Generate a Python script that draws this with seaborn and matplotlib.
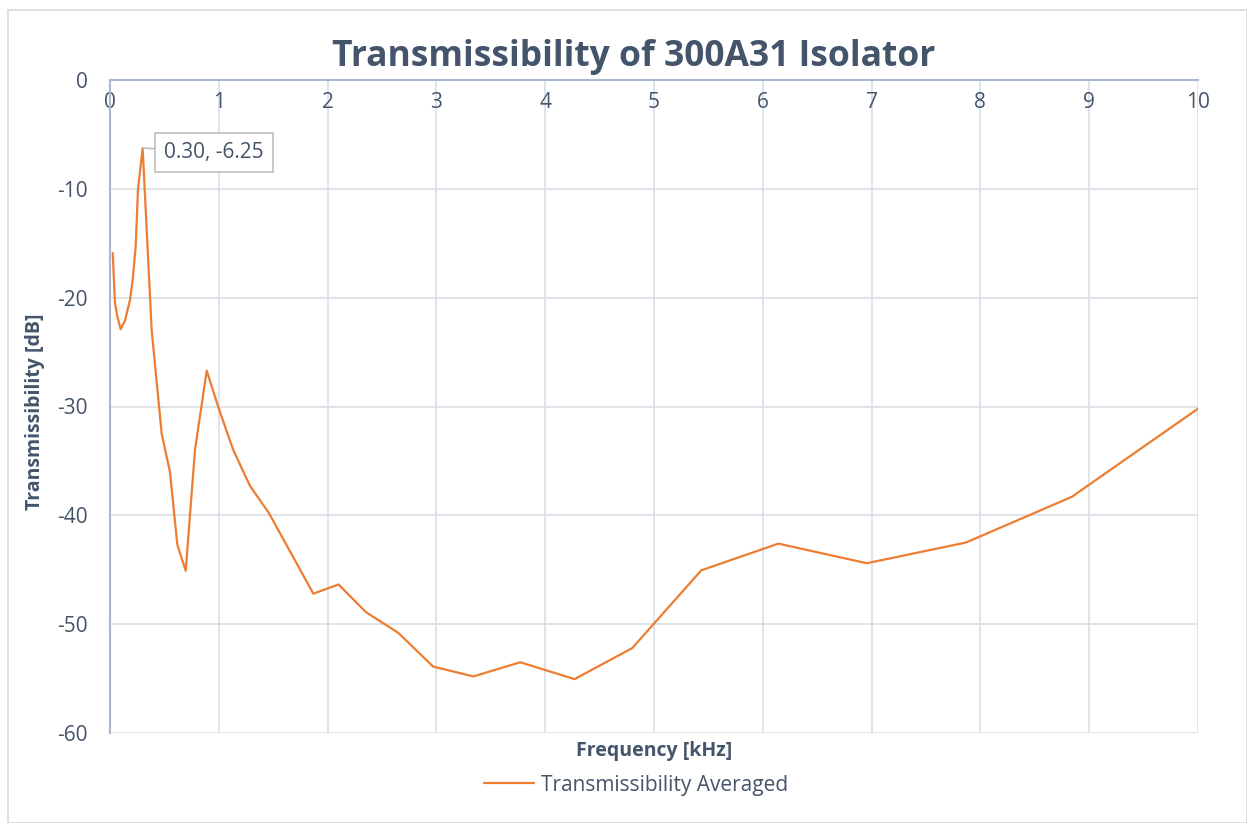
import matplotlib
matplotlib.use('Agg')
import matplotlib.pyplot as plt
import seaborn as sns
from matplotlib.patches import Rectangle

# Data
freq_khz = [0.025, 0.046, 0.067, 0.098, 0.138, 0.184, 0.208, 0.236, 0.257, 0.270,
            0.300, 0.383, 0.475, 0.551, 0.619, 0.696, 0.781, 0.889, 1.000, 1.133,
            1.287, 1.461, 1.869, 2.100, 2.353, 2.650, 2.970, 3.340, 3.770, 4.270,
            4.800, 5.435, 6.143, 6.956, 7.867, 8.840, 10.000]
trans_db = [-15.9, -20.5, -21.7, -22.9, -22.1, -20.2, -18.4, -15.3, -10.1, -8.9,
            -6.25, -23.0, -32.5, -36.0, -42.7, -45.1, -34.0, -26.7, -30.2, -34.0,
            -37.3, -39.8, -47.2, -46.35, -48.9, -50.8, -53.9, -54.8, -53.5, -55.05,
            -52.2, -45.05, -42.6, -44.4, -42.5, -38.3, -30.2]
x_ticks = list(range(0, 11))
y_ticks = [0, -10, -20, -30, -40, -50, -60]
peak_label = '0.30, -6.25'

text_col = '#44546a'
axis_col = '#abb8cc'
grid_col = '#d9dee6'
line_col = '#ed7d31'

sns.set_theme(style='white')
plt.rcParams['font.family'] = ['Open Sans', 'DejaVu Sans']
plt.rcParams['axes.unicode_minus'] = False

fig = plt.figure(figsize=(12.47, 8.23), dpi=100)
# outer chart border
fig.patches.append(Rectangle((8 / 1247, 0), 1 - 8 / 1247, 1 - 10 / 823,
                             transform=fig.transFigure, fill=False,
                             ec='#d9d9d9', lw=1.2))

ax = fig.add_axes([110 / 1247, 1 - 733 / 823, 1088 / 1247, 653 / 823])

sns.lineplot(x=freq_khz, y=trans_db, ax=ax, color=line_col, linewidth=1.6,
             label='Transmissibility Averaged', legend=False)

ax.set_xlim(0, 10)
ax.set_ylim(-60, 0)
ax.set_xticks(x_ticks)
ax.set_yticks(y_ticks)
ax.grid(True, color=grid_col, linewidth=1.2)
ax.set_axisbelow(True)

ax.spines['bottom'].set_position(('data', 0))
ax.spines['bottom'].set_color(axis_col)
ax.spines['left'].set_color(axis_col)
ax.spines['bottom'].set_linewidth(1.5)
ax.spines['left'].set_linewidth(1.5)
ax.spines['top'].set_visible(False)
ax.spines['right'].set_visible(False)
ax.tick_params(axis='x', length=0, pad=9, labelsize=15, labelcolor=text_col)
ax.tick_params(axis='y', length=0, pad=16, labelsize=15, labelcolor=text_col)
ax.set_xlabel('')
ax.set_ylabel('')

# data label callout on the peak
ax.annotate(peak_label, xy=(0.30, -6.25), xytext=(0.956, -6.66),
            ha='center', va='center', fontsize=15, color=text_col,
            bbox=dict(boxstyle='square,pad=0.45', fc='white', ec='#bfbfbf', lw=1.2),
            arrowprops=dict(arrowstyle='-', color='#bfbfbf', lw=1.2,
                            shrinkA=0, shrinkB=0))

fig.text(634 / 1247, 1 - 57 / 823, 'Transmissibility of 300A31 Isolator',
         ha='center', va='center', fontsize=25.5, fontweight='bold', color=text_col)
fig.text(654 / 1247, 1 - 751 / 823, 'Frequency [kHz]', ha='center', va='center',
         fontsize=14, fontweight='bold', color=text_col)
fig.text(35 / 1247, 1 - 412 / 823, 'Transmissibility [dB]', ha='center', va='center',
         rotation=90, fontsize=14, fontweight='bold', color=text_col)

handles, labels = ax.get_legend_handles_labels()
fig.legend(handles, labels, loc='center', bbox_to_anchor=(636 / 1247, 1 - 785 / 823),
           frameon=False, fontsize=15, labelcolor=text_col, handlelength=2.4,
           handletextpad=0.35)

fig.savefig('out.png', dpi=100)
